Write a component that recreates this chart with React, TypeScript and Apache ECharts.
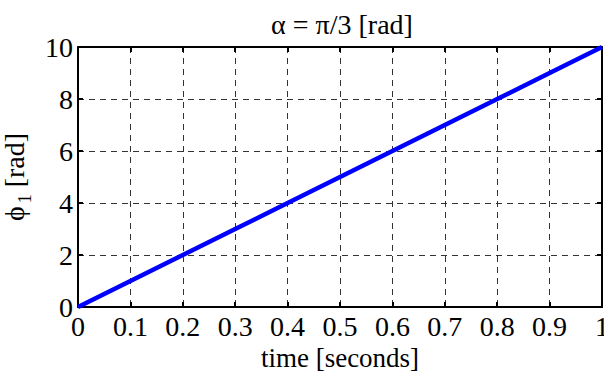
import React, { useEffect, useRef } from "react";
import * as echarts from "echarts";

const titleText = "α = π/3 [rad]";
const xName = "time [seconds]";
const times = [0, 0.1, 0.2, 0.3, 0.4, 0.5, 0.6, 0.7, 0.8, 0.9, 1];
const phi = [0, 1, 2, 3, 4, 5, 6, 7, 8, 9, 10];

const FONT = "Liberation Serif";
const FS = 28;

export default function App() {
  const ref = useRef<HTMLDivElement>(null);
  useEffect(() => {
    if (!ref.current) return;
    const chart = echarts.init(ref.current, undefined, { renderer: "svg" });
    const gridLine = { show: true, lineStyle: { color: "#333", width: 1, type: [6, 5] as any } };
    const axisLine = { show: true, onZero: false, lineStyle: { color: "#000", width: 2 } };
    const tick = { show: true, inside: true, length: 5, lineStyle: { color: "#000", width: 2 } };
    chart.setOption({
      animation: false,
      backgroundColor: "#fff",
      textStyle: { fontFamily: FONT },
      title: {
        text: titleText,
        left: 337,
        textAlign: "center",
        top: 5,
        textStyle: { fontFamily: FONT, fontSize: FS, fontWeight: "normal", color: "#000" },
      },
      grid: { left: 78, right: 2, top: 47, bottom: 65, containLabel: false, outerBoundsMode: "none" },
      xAxis: [
        {
          type: "value",
          min: 0,
          max: 1,
          interval: 0.1,
          position: "bottom",
          name: xName,
          nameLocation: "middle",
          nameGap: 29,
          nameTextStyle: { fontFamily: FONT, fontSize: 27, lineHeight: 27, color: "#000" },
          axisLine,
          axisTick: tick,
          splitLine: gridLine,
          axisLabel: {
            fontFamily: FONT,
            fontSize: FS,
            color: "#000",
            margin: 5,
            hideOverlap: false,
            formatter: (v: number) => String(Math.round(v * 10) / 10),
          },
        },
        {
          type: "value",
          min: 0,
          max: 1,
          interval: 0.1,
          position: "top",
          axisLine,
          axisTick: tick,
          splitLine: { show: false },
          axisLabel: { show: false },
        },
      ],
      yAxis: [
        {
          type: "value",
          min: 0,
          max: 10,
          interval: 2,
          position: "left",
          name: "{a|ϕ}{s|1}{a| [rad]}",
          nameLocation: "middle",
          nameGap: 38,
          nameRotate: 90,
          nameTextStyle: {
            fontFamily: FONT,
            fontSize: FS,
            color: "#000",
            rich: {
              a: { fontFamily: FONT, fontSize: FS, lineHeight: FS, color: "#000", verticalAlign: "top", padding: [0, 0, 6, 0] },
              s: { fontFamily: FONT, fontSize: 18, lineHeight: 18, color: "#000", verticalAlign: "top", padding: [16, 0, 0, 3] },
            },
          },
          axisLine,
          axisTick: tick,
          splitLine: gridLine,
          axisLabel: { fontFamily: FONT, fontSize: FS, color: "#000", margin: 5 },
        },
        {
          type: "value",
          min: 0,
          max: 10,
          interval: 2,
          position: "right",
          axisLine,
          axisTick: tick,
          splitLine: { show: false },
          axisLabel: { show: false },
        },
      ],
      series: [
        {
          type: "line",
          data: times.map((t, i) => [t, phi[i]]),
          showSymbol: false,
          symbol: "none",
          clip: false,
          lineStyle: { color: "#0000ff", width: 4.5 },
          z: 5,
        },
      ],
    });
    return () => chart.dispose();
  }, []);
  return <div ref={ref} style={{ width: 604, height: 372, position: "absolute", left: 0, top: 0 }} />;
}
